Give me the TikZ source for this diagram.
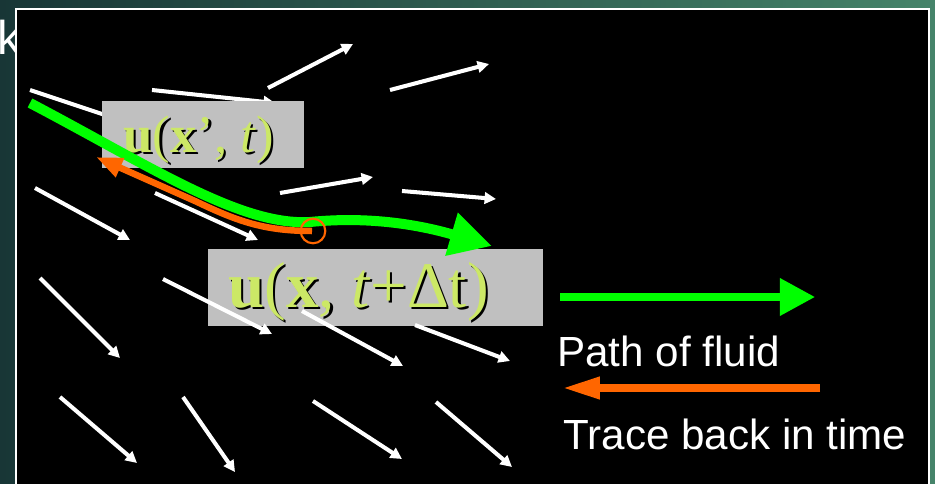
\documentclass[tikz,border=0pt]{standalone}
\usepackage{fontspec}
\setmainfont{Liberation Serif}
\newfontfamily\lsans{Liberation Sans}
\usetikzlibrary{arrows.meta}
\definecolor{bgL}{RGB}{24,54,54}
\definecolor{bgR}{RGB}{70,132,106}
\definecolor{boxgray}{RGB}{192,192,192}
\definecolor{eqcol}{RGB}{204,232,102}
\definecolor{pathgreen}{RGB}{0,255,0}
\definecolor{traceorange}{RGB}{255,102,0}
\newcommand\shtxt[1]{\makebox[0pt][l]{\hspace{1.4pt}\raisebox{-1.4pt}{\color{black}#1}}{\color{eqcol}#1}}
\tikzset{
  field/.style={white, line width=2.3pt, -{Triangle[length=6.5pt,width=6.5pt]}},
  graybox/.style={fill=boxgray, draw=none, inner sep=0pt, anchor=north west},
  eqtext/.style={inner sep=0pt, anchor=base west},
  legendtext/.style={white, inner sep=0pt, anchor=base west, font=\lsans\fontsize{24}{28}\selectfont},
  fluid/.style={pathgreen, line width=5.7pt},
  trace/.style={traceorange, line width=3.7pt},
}
\begin{document}
\begin{tikzpicture}[x=0.02cm,y=-0.02cm]
\useasboundingbox (0,0) rectangle (935,483);
\clip (0,0) rectangle (935,483);
% background
\shade[left color=bgL, right color=bgR] (0,0) rectangle (935,483);
\node[white, anchor=base west, inner sep=0pt, font=\lsans\fontsize{27}{30}\selectfont] (ttl) at (-3,55) {k};
\draw[white, line width=1pt, fill=black] (16,9) rectangle (929,500);

% arrows hidden partly behind upper box
\draw[field] (30,90) -- (150,130);
\draw[field] (152,90) -- (275,103);

% boxes
\node[graybox, minimum width=114.5pt, minimum height=38pt] (boxA) at (102,101) {};
\node[graybox, minimum width=190.5pt, minimum height=43.7pt] (boxB) at (208,249) {};
\node[eqtext, font=\fontsize{30}{34}\selectfont] (eqA) at (123,152)
  {\shtxt{\textbf{u}(\textbf{x}’, \textit{t})}};
\node[eqtext, font=\fontsize{37}{42}\selectfont] (eqB) at (228,307)
  {\shtxt{\textbf{u}(\textbf{x}, \textit{t}+Δt)}};

% velocity field
\draw[field] (268,88) -- (353,44);
\draw[field] (390,90) -- (489,64);
\draw[field] (280,193) -- (373,177);
\draw[field] (402,191) -- (496,199);
\draw[field] (35,188) -- (130,240);
\draw[field] (155,193) -- (258,240);
\draw[field] (40,278) -- (120,358);
\draw[field] (163,279) -- (272,334);
\draw[field] (60,397) -- (137,463);
\draw[field] (183,397) -- (235,472);
\draw[field] (302,311) -- (403,366);
\draw[field] (415,325) -- (510,361);
\draw[field] (313,401) -- (402,459);
\draw[field] (436,402) -- (512,467);

% path of fluid
\coordinate (g0) at (30,103);
\coordinate (g1) at (310,222);
\coordinate (g2) at (492,246);
\draw[fluid, -{Triangle[length=24pt,width=24pt]}]
  (g0) .. controls (150,166) and (240,226) .. (g1)
       .. controls (370,216) and (420,225) .. (g2);

% trace back
\coordinate (o0) at (312,231);
\coordinate (o1) at (195,201);
\coordinate (o2) at (96,157);
\draw[trace, -{Triangle[length=15pt,width=11pt]}]
  (o0) .. controls (262,231) and (235,220) .. (o1) -- (o2);
\node[circle, draw=traceorange, line width=1.2pt, minimum size=14pt, inner sep=0pt] (pt) at (313,231) {};

% legend
\coordinate (lg1) at (560,297);
\coordinate (lg2) at (815,297);
\draw[pathgreen, line width=4pt, -{Triangle[length=20pt,width=20.5pt]}] (lg1) -- (lg2);
\node[legendtext] (lpath) at (557,366) {Path of fluid};
\coordinate (lo1) at (820,388);
\coordinate (lo2) at (563,388);
\draw[traceorange, line width=4pt, -{Triangle[length=21pt,width=12pt]}] (lo1) -- (lo2);
\node[legendtext] (ltrace) at (563,449) {Trace back in time};
\end{tikzpicture}
\end{document}
